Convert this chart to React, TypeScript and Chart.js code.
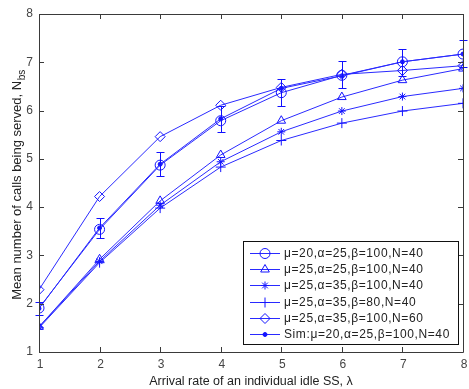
import React, { useEffect, useRef } from 'react';
import { Chart, registerables } from 'chart.js';
import { drawPoint } from 'chart.js/helpers';

Chart.register(...registerables);

// ---- data ----
const lambdas = [1, 2, 3, 4, 5, 6, 7, 8];
const mu20a25b100N40 = [1.91, 3.54, 4.87, 5.79, 6.37, 6.73, 7.01, 7.17];
const mu25a25b100N40 = [1.52, 2.92, 4.13, 5.08, 5.79, 6.28, 6.63, 6.87];
const mu25a35b100N40 = [1.52, 2.88, 4.04, 4.94, 5.56, 5.99, 6.29, 6.46];
const mu25a35b80N40 = [1.5, 2.85, 3.98, 4.83, 5.38, 5.74, 5.99, 6.15];
const mu25a35b100N60 = [2.29, 4.22, 5.46, 6.11, 6.48, 6.75, 6.83, 6.93];
const simMean = [1.9, 3.57, 4.89, 5.83, 6.46, 6.72, 7.01, 7.17];
const simLow = [1.76, 3.37, 4.65, 5.55, 6.1, 6.46, 6.72, 6.9];
const simHigh = [2.04, 3.77, 5.14, 6.1, 6.65, 7.03, 7.28, 7.47];

const xTickValues = [1, 2, 3, 4, 5, 6, 7, 8];
const yTickValues = [1, 2, 3, 4, 5, 6, 7, 8];

const seriesLabels = [
  'μ=20,α=25,β=100,N=40',
  'μ=25,α=25,β=100,N=40',
  'μ=25,α=35,β=100,N=40',
  'μ=25,α=35,β=80,N=40',
  'μ=25,α=35,β=100,N=60',
  'Sim:μ=20,α=25,β=100,N=40',
];

const xTitle = 'Arrival rate of an individual idle SS, λ';
const yTitleMain = 'Mean number of calls being served, N';
const yTitleSub = 'bs';

const FONT = '"Liberation Sans", Arial, sans-serif';
const LINE = '#2a2aff';
const AXIS = '#3a3a3a';

const toPts = (ys: number[]) => lambdas.map((x, i) => ({ x, y: ys[i] }));

const frameTicksPlugin = {
  id: 'frameTicks',
  afterDraw(chart: any) {
    const { ctx, chartArea: a, scales } = chart;
    ctx.save();
    ctx.strokeStyle = AXIS;
    ctx.lineWidth = 1;
    ctx.beginPath();
    ctx.rect(Math.round(a.left) + 0.5, Math.round(a.top) + 0.5, Math.round(a.right - a.left), Math.round(a.bottom - a.top));
    ctx.stroke();
    const L = 5;
    ctx.beginPath();
    xTickValues.forEach((v) => {
      const px = Math.round(scales.x.getPixelForValue(v)) + 0.5;
      ctx.moveTo(px, a.bottom);
      ctx.lineTo(px, a.bottom - L);
      ctx.moveTo(px, a.top);
      ctx.lineTo(px, a.top + L);
    });
    yTickValues.forEach((v) => {
      const py = Math.round(scales.y.getPixelForValue(v)) + 0.5;
      ctx.moveTo(a.left, py);
      ctx.lineTo(a.left + L, py);
      ctx.moveTo(a.right, py);
      ctx.lineTo(a.right - L, py);
    });
    ctx.stroke();
    ctx.restore();
  },
};

const errorBarPlugin = {
  id: 'errorBars',
  afterDatasetsDraw(chart: any) {
    const { ctx, scales } = chart;
    ctx.save();
    ctx.strokeStyle = '#1010ff';
    ctx.lineWidth = 1;
    ctx.beginPath();
    lambdas.forEach((x, i) => {
      const px = Math.round(scales.x.getPixelForValue(x)) + 0.5;
      const lo = Math.round(scales.y.getPixelForValue(simLow[i])) + 0.5;
      const hi = Math.round(scales.y.getPixelForValue(simHigh[i])) + 0.5;
      ctx.moveTo(px, lo);
      ctx.lineTo(px, hi);
      ctx.moveTo(px - 4, lo);
      ctx.lineTo(px + 4, lo);
      ctx.moveTo(px - 4, hi);
      ctx.lineTo(px + 4, hi);
    });
    ctx.stroke();
    ctx.restore();
  },
};

const yTitlePlugin = {
  id: 'yTitle',
  afterDraw(chart: any) {
    const { ctx, chartArea: a } = chart;
    ctx.save();
    const cy = (a.top + a.bottom) / 2 + 2;
    ctx.translate(17.5, cy);
    ctx.rotate(-Math.PI / 2);
    ctx.fillStyle = '#222';
    ctx.textBaseline = 'middle';
    ctx.textAlign = 'left';
    ctx.font = `13px ${FONT}`;
    const w1 = ctx.measureText(yTitleMain).width;
    ctx.font = `10px ${FONT}`;
    const w2 = ctx.measureText(yTitleSub).width;
    const start = -(w1 + w2) / 2;
    ctx.font = `13px ${FONT}`;
    ctx.fillText(yTitleMain, start, 0);
    ctx.font = `10px ${FONT}`;
    ctx.fillText(yTitleSub, start + w1 + 0.5, 4.5);
    ctx.restore();
  },
};

const legendPlugin = {
  id: 'customLegend',
  afterDraw(chart: any) {
    const { ctx, chartArea: a } = chart;
    const boxRight = a.right - 5;
    const boxBottom = a.bottom - 8;
    const boxW = 215;
    const rowH = 16.2;
    const n = chart.data.datasets.length;
    const boxH = rowH * n + 6;
    const left = boxRight - boxW;
    const top = boxBottom - boxH;
    ctx.save();
    ctx.fillStyle = '#fff';
    ctx.fillRect(left, top, boxW, boxH);
    ctx.strokeStyle = '#111';
    ctx.lineWidth = 1;
    ctx.strokeRect(Math.round(left) + 0.5, Math.round(top) + 0.5, Math.round(boxW), Math.round(boxH));
    ctx.font = `12px ${FONT}`;
    ctx.textBaseline = 'middle';
    chart.data.datasets.forEach((ds: any, i: number) => {
      const y = Math.round(top + 4 + rowH * (i + 0.5)) + 0.5;
      ctx.strokeStyle = ds.borderColor;
      ctx.lineWidth = 1;
      ctx.beginPath();
      ctx.moveTo(left + 7, y);
      ctx.lineTo(left + 37, y);
      ctx.stroke();
      ctx.fillStyle = ds.pointBackgroundColor;
      ctx.strokeStyle = ds.pointBorderColor;
      drawPoint(ctx, { pointStyle: ds.pointStyle, radius: ds.pointRadius, rotation: 0, borderWidth: 1 }, left + 22, y);
      ctx.fillStyle = '#222';
      (ctx as any).letterSpacing = '0.6px';
      ctx.fillText(ds.label, left + 41, y);
      (ctx as any).letterSpacing = '0px';
    });
    ctx.restore();
  },
};

function mkDs(label: string, ys: number[], style: string, radius: number, filled = false) {
  return {
    label,
    data: toPts(ys),
    borderColor: LINE,
    borderWidth: 1,
    pointStyle: style,
    pointRadius: radius,
    pointBorderColor: '#1414ff',
    pointBackgroundColor: filled ? '#1414ff' : 'rgba(0,0,0,0)',
    pointBorderWidth: 1,
    tension: 0,
    fill: false,
  };
}

export default function App() {
  const ref = useRef<HTMLCanvasElement | null>(null);
  useEffect(() => {
    document.body.style.margin = '0';
    if (!ref.current) return;
    const chart = new Chart(ref.current, {
      type: 'line',
      data: {
        datasets: [
          mkDs(seriesLabels[0], mu20a25b100N40, 'circle', 5),
          mkDs(seriesLabels[1], mu25a25b100N40, 'triangle', 5),
          mkDs(seriesLabels[2], mu25a35b100N40, 'star', 4),
          mkDs(seriesLabels[3], mu25a35b80N40, 'cross', 5),
          mkDs(seriesLabels[4], mu25a35b100N60, 'rectRot', 5),
          mkDs(seriesLabels[5], simMean, 'circle', 2, true),
        ] as any,
      },
      options: {
        animation: false,
        responsive: false,
        maintainAspectRatio: false,
        layout: { padding: { left: 0, right: 2.5, top: 14, bottom: 0 } },
        plugins: { legend: { display: false }, tooltip: { enabled: false } },
        scales: {
          x: {
            type: 'linear',
            min: 1,
            max: 8,
            afterBuildTicks: (s: any) => {
              s.ticks = xTickValues.map((v) => ({ value: v }));
            },
            ticks: { color: '#444', font: { family: FONT, size: 12 }, padding: 5, maxRotation: 0, autoSkip: false, labelOffset: 1 },
            grid: { display: false, drawTicks: false },
            border: { display: false },
            title: { display: true, text: xTitle, color: '#222', font: { family: FONT, size: 12.5 }, padding: { top: 0, bottom: 0 } },
            afterFit: (s: any) => {
              s.height = 37;
              s.paddingLeft = 0;
              s.paddingRight = 0;
            },
          } as any,
          y: {
            type: 'linear',
            min: 1,
            max: 8,
            afterBuildTicks: (s: any) => {
              s.ticks = yTickValues.map((v) => ({ value: v }));
            },
            ticks: { color: '#444', font: { family: FONT, size: 12 }, padding: 6 },
            grid: { display: false, drawTicks: false },
            border: { display: false },
            afterFit: (s: any) => {
              s.width = 39;
              s.paddingTop = 0;
              s.paddingBottom = 0;
            },
          } as any,
        },
      },
      plugins: [frameTicksPlugin, errorBarPlugin, yTitlePlugin, legendPlugin],
    });
    return () => chart.destroy();
  }, []);
  return (
    <div style={{ width: 469, height: 389, background: '#fff' }}>
      <canvas ref={ref} width={469} height={389} style={{ display: 'block' }} />
    </div>
  );
}
